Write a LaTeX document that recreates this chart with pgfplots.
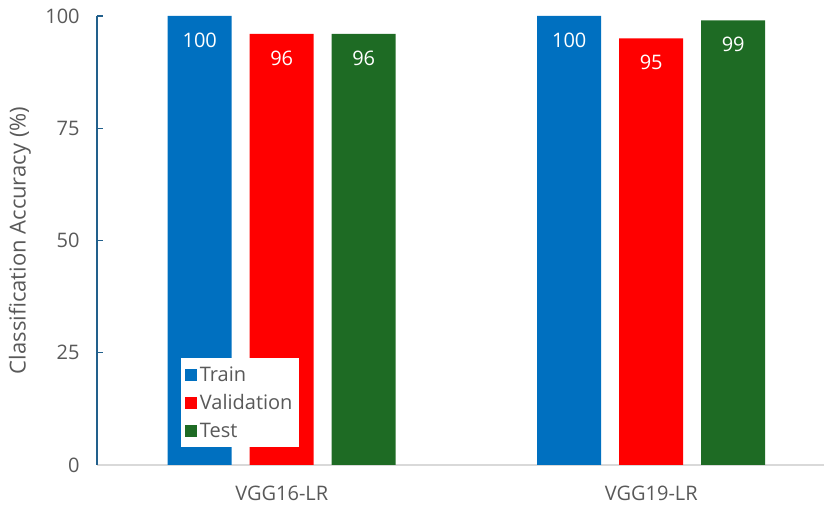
\documentclass[border=0pt]{standalone}
\usepackage{pgfplots}
\pgfplotsset{compat=1.18}
\usepackage{fontspec}
\setmainfont{Open Sans}
\usetikzlibrary{calc}
\definecolor{cblue}{HTML}{0070C0}
\definecolor{cred}{HTML}{FF0000}
\definecolor{cgreen}{HTML}{1E6B24}
\definecolor{txt}{HTML}{595959}
\definecolor{yax}{HTML}{22608C}
\definecolor{xax}{HTML}{D9D9D9}
\newcommand{\cf}{\fontsize{15}{17}\selectfont}
\newcommand{\lf}{\fontsize{16.5}{19}\selectfont}
\pgfplotsset{
  mybar/.style={draw=none,
    legend image code/.code={\fill[##1] (1.5pt,-4.5pt) rectangle (10.5pt,4.5pt);}},
}
\begin{document}
\begin{tikzpicture}
\begin{axis}[
  scale only axis, width=545.25pt, height=336.75pt,
  xmin=-0.5, xmax=1.4676, ymin=0, ymax=100,
  ybar=13.5pt, bar width=48pt,
  axis x line*=bottom, axis y line*=left,
  x axis line style={xax, line width=0.9pt},
  y axis line style={yax, line width=1.1pt},
  xtick={0,1}, xticklabels={VGG16-LR,VGG19-LR},
  xtick style={draw=none},
  ytick={0,25,50,75,100},
  ytick style={yax, line width=1.1pt},
  tick align=inside, major tick length=4.5pt,
  /pgf/number format/assume math mode=true,
  tick label style={font=\cf, text=txt},
  yticklabel style={xshift=-9.5pt},
  xticklabel style={yshift=-12.5pt},
  ylabel={Classification Accuracy (\%)},
  ylabel style={at={(axis description cs:-0.106,0.5)}, anchor=center, font=\lf, text=txt},
  nodes near coords,
  nodes near coords align={below},
  every node near coord/.append style={text=white, font=\cf, yshift=-9pt},
  legend style={at={(rel axis cs:0.1155,0.238)}, anchor=north west, draw=none, fill=white,
    font=\cf, text=txt, cells={anchor=west}, row sep=4.5pt, inner xsep=3pt, inner ysep=4pt},
  legend cell align=left,
]
\addplot[mybar, fill=cblue] coordinates {(0,100) (1,100)};
\addplot[mybar, fill=cred] coordinates {(0,96) (1,95)};
\addplot[mybar, fill=cgreen] coordinates {(0,96) (1,99)};
\legend{Train,Validation,Test}
\end{axis}
\pgfresetboundingbox
\path ($(current axis.south west)+(-72.75pt,-30.75pt)$) rectangle ($(current axis.north east)+(0pt,12pt)$);
\end{tikzpicture}
\end{document}
